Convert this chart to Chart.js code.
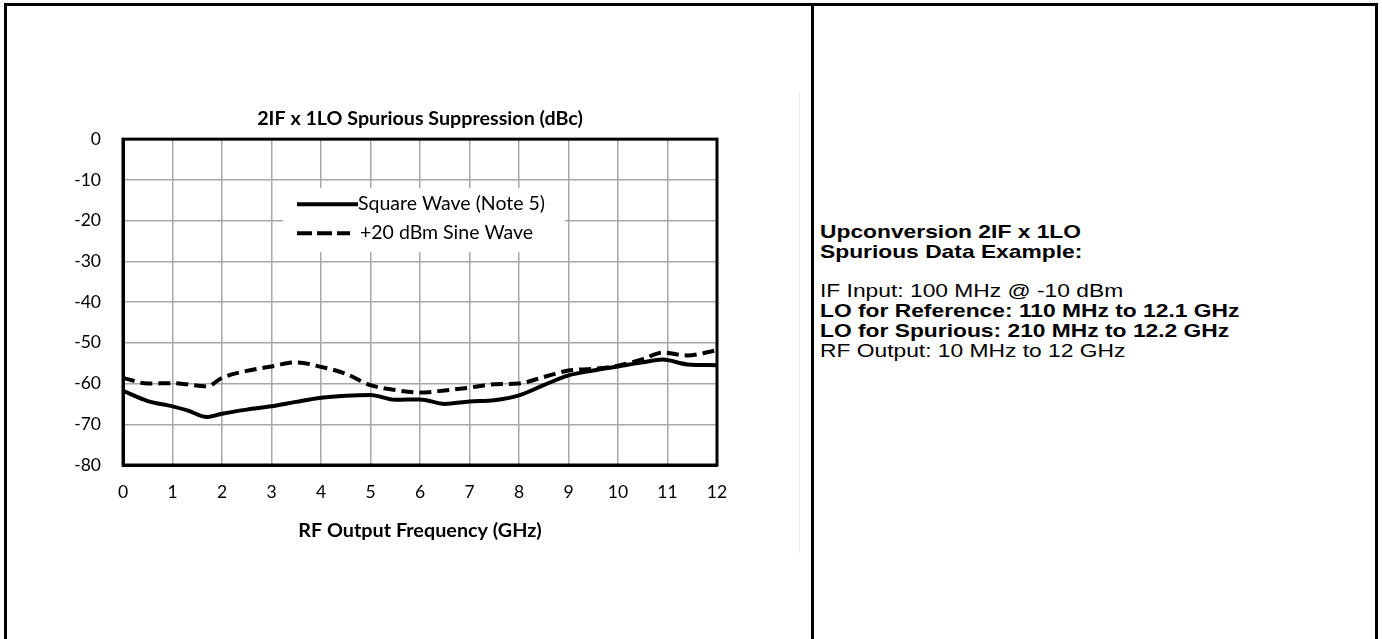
<!DOCTYPE html>
<html><head><meta charset="utf-8">
<script src="https://cdn.jsdelivr.net/npm/chart.js@4.4.1/dist/chart.umd.min.js"></script>
<style>
html,body{margin:0;padding:0;background:#fff;}
#page{position:relative;width:1382px;height:639px;overflow:hidden;background:#fff;}
.b{position:absolute;background:#000;}
#info{position:absolute;left:820px;top:222px;font-family:"Liberation Sans",Arial,sans-serif;font-size:19px;line-height:19.8px;color:#000;transform:scaleX(1.2);transform-origin:0 0;white-space:nowrap;}
#info div{height:19.8px;}
.bold{font-weight:bold;}
</style></head>
<body><div id="page">
<div class="b" style="left:4px;top:3px;width:3px;height:636px"></div>
<div class="b" style="left:4px;top:3px;width:1374px;height:3px"></div>
<div class="b" style="left:1375px;top:3px;width:3px;height:636px"></div>
<div class="b" style="left:811px;top:3px;width:3px;height:636px"></div>
<div style="position:absolute;left:799px;top:92px;width:1px;height:461px;background:#ececec"></div>
<canvas id="c" width="811" height="639" style="position:absolute;left:0;top:0"></canvas>
<div id="info">
<div class="bold">Upconversion 2IF x 1LO</div>
<div class="bold">Spurious Data Example:</div>
<div></div>
<div>IF Input: 100 MHz @ -10 dBm</div>
<div class="bold">LO for Reference: 110 MHz to 12.1 GHz</div>
<div class="bold">LO for Spurious: 210 MHz to 12.2 GHz</div>
<div>RF Output: 10 MHz to 12 GHz</div>
</div>
</div>
<script>
// ---- data ----
const freqGHz    = [0, 0.5, 1, 1.3, 1.7, 2, 2.5, 3, 3.5, 4, 4.5, 5, 5.5, 6, 6.5, 7, 7.5, 8, 8.5, 9, 9.5, 10, 10.5, 10.9, 11.4, 12];
const squareWave = [-61.8, -64.3, -65.6, -66.6, -68.2, -67.4, -66.4, -65.6, -64.5, -63.5, -63.0, -62.8, -64.0, -63.9, -65.0, -64.4, -64.1, -62.9, -60.4, -58.0, -56.8, -55.8, -54.8, -54.1, -55.3, -55.5];
const sineWave   = [-58.6, -60.0, -59.9, -60.2, -60.7, -58.6, -56.9, -55.8, -54.8, -55.9, -57.6, -60.4, -61.6, -62.2, -61.7, -61.0, -60.2, -60.0, -58.4, -56.8, -56.4, -55.6, -54.0, -52.4, -53.1, -51.8];
const seriesLabels = ['Square Wave (Note 5)', '+20 dBm Sine Wave'];
const xTickValues = [0,1,2,3,4,5,6,7,8,9,10,11,12];
const yTickValues = [0,-10,-20,-30,-40,-50,-60,-70,-80];
const chartTitle = '2IF x 1LO Spurious Suppression (dBc)';
const xAxisTitle = 'RF Output Frequency (GHz)';

const toPoints = ys => freqGHz.map((x, i) => ({x, y: ys[i]}));

const legendDash = [[], [15, 5]];
const frameAndLegend = {
  id: 'frameAndLegend',
  afterDatasetsDraw(chart) {
    const {ctx, chartArea: ca} = chart;
    ctx.save();
    // legend box inside plot
    const x0 = ca.left + 160, y0 = ca.top + 49, w = 282, h = 64;
    ctx.fillStyle = '#fff';
    ctx.fillRect(x0, y0, w, h);
    chart.data.datasets.forEach((ds, i) => {
      const cy = y0 + 16 + i * 29;
      ctx.beginPath();
      ctx.setLineDash(legendDash[i]);
      ctx.lineWidth = 4;
      ctx.lineCap = 'butt';
      ctx.strokeStyle = ds.borderColor;
      ctx.moveTo(x0 + 14, cy);
      ctx.lineTo(x0 + (i === 0 ? 75 : 67), cy);
      ctx.stroke();
      ctx.setLineDash([]);
      ctx.font = '19.5px Lato';
      ctx.fillStyle = '#000';
      ctx.textBaseline = 'middle';
      ctx.textAlign = 'left';
      ctx.fillText(ds.label, x0 + (i === 0 ? 75 : 77), cy);
    });
    // plot frame
    ctx.lineWidth = 3;
    ctx.strokeStyle = '#000';
    ctx.strokeRect(ca.left, ca.top, ca.right - ca.left, ca.bottom - ca.top);
    ctx.restore();
  }
};

new Chart(document.getElementById('c'), {
  type: 'line',
  data: {
    datasets: [
      { label: seriesLabels[0], data: toPoints(squareWave), borderColor: '#000', borderWidth: 4,
        pointRadius: 0, fill: false, cubicInterpolationMode: 'monotone' },
      { label: seriesLabels[1], data: toPoints(sineWave), borderColor: '#000', borderWidth: 4,
        borderDash: [12, 6], pointRadius: 0, fill: false, cubicInterpolationMode: 'monotone' }
    ]
  },
  options: {
    responsive: false,
    animation: false,
    devicePixelRatio: 1,
    layout: { padding: { left: 0, right: 94, top: 107, bottom: 0 } },
    plugins: {
      legend: { display: false },
      tooltip: { enabled: false },
      title: { display: true, fullSize: false, text: chartTitle, color: '#000',
               font: { family: 'Lato', size: 19.7, weight: 'bold', lineHeight: 1.2 },
               padding: { top: 0, bottom: 8.5 } }
    },
    scales: {
      x: {
        type: 'linear', min: 0, max: 12,
        afterBuildTicks: s => { s.ticks = xTickValues.map(v => ({value: v})); },
        afterFit: s => { s.height = 174; },
        grid: { color: '#a8a8a8', lineWidth: 1.5, drawTicks: false },
        border: { color: '#000', width: 3 },
        ticks: { color: '#000', padding: 17, font: { family: 'Lato', size: 17.5, lineHeight: 1.2 } },
        title: { display: true, text: xAxisTitle, color: '#000',
                 font: { family: 'Lato', size: 19.8, weight: 'bold', lineHeight: 1.2 },
                 padding: { top: 0, bottom: 97 } }
      },
      y: {
        min: -80, max: 0,
        afterBuildTicks: s => { s.ticks = yTickValues.map(v => ({value: v})); },
        afterFit: s => { s.width = 123; },
        grid: { color: '#a8a8a8', lineWidth: 1.5, drawTicks: false },
        border: { color: '#000', width: 3 },
        ticks: { color: '#000', padding: 22, font: { family: 'Lato', size: 17.5, lineHeight: 1.2 } }
      }
    }
  },
  plugins: [frameAndLegend]
});
</script>
</body></html>
